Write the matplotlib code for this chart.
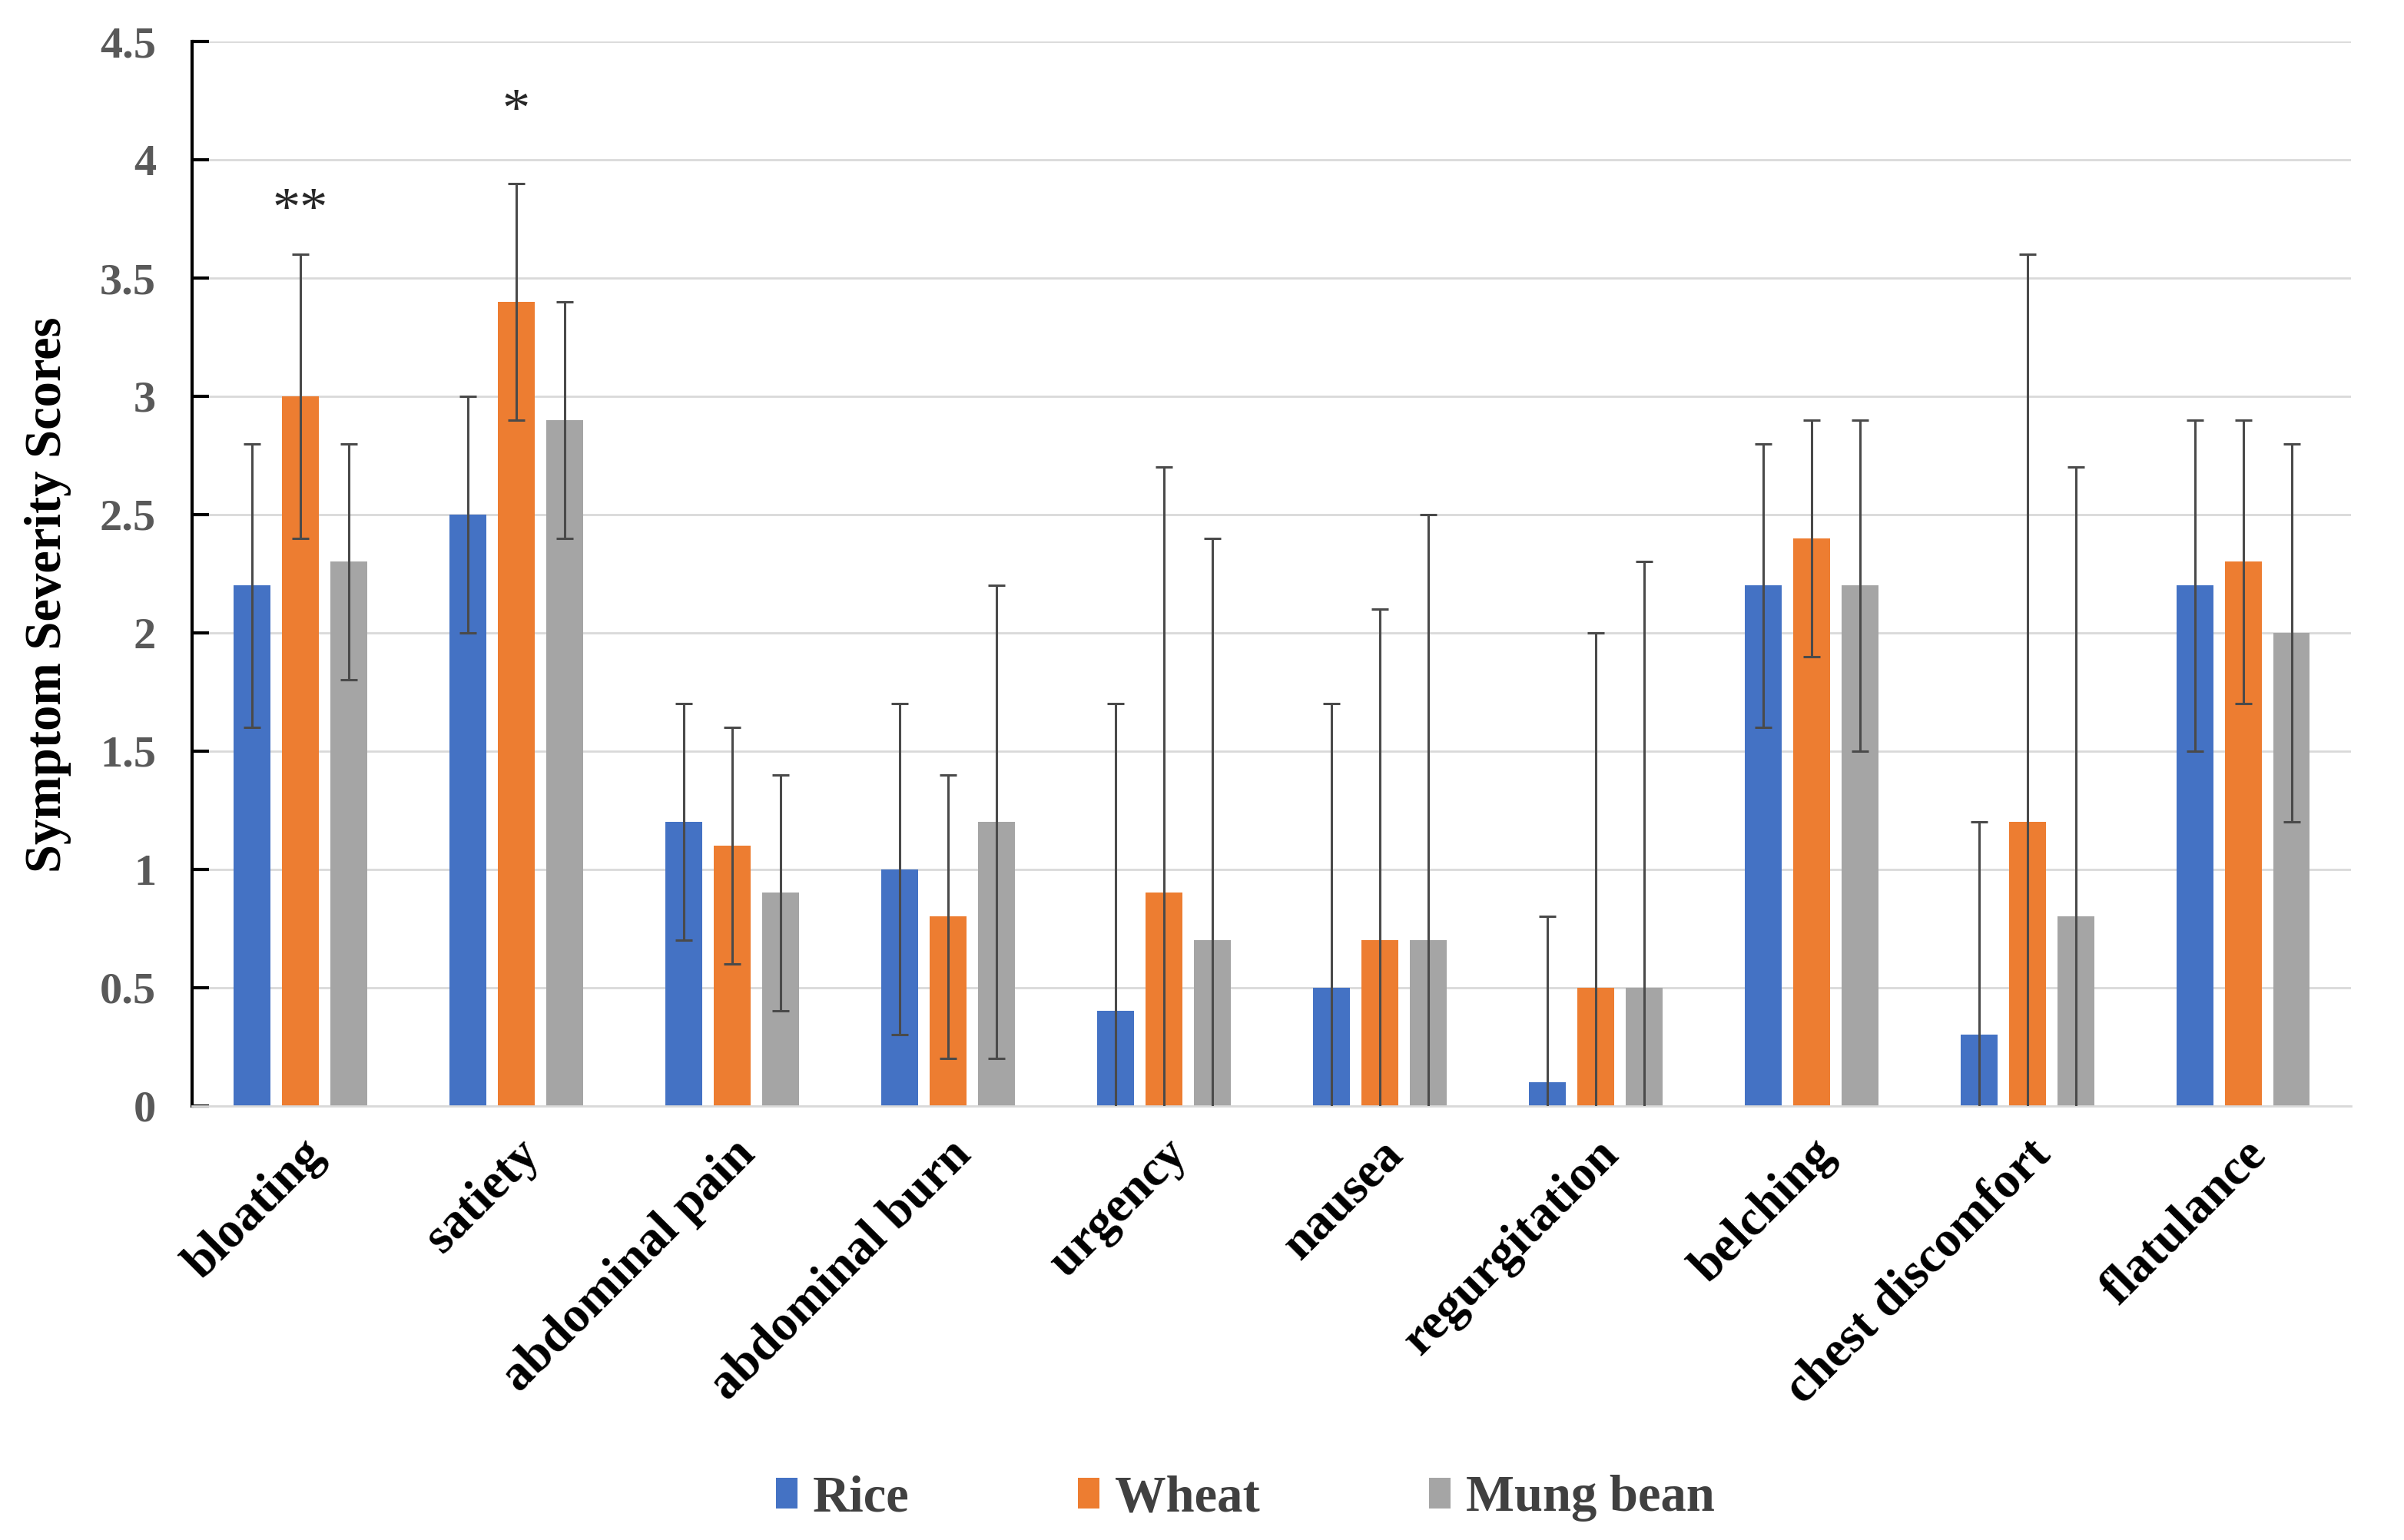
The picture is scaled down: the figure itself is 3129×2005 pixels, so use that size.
import matplotlib
matplotlib.use("Agg")
import matplotlib.pyplot as plt
import numpy as np

categories = ["bloating", "satiety", "abdominal pain", "abdominal burn", "urgency",
              "nausea", "regurgitation", "belching", "chest discomfort", "flatulance"]
series_names = ["Rice", "Wheat", "Mung bean"]
rice = [2.2, 2.5, 1.2, 1.0, 0.4, 0.5, 0.1, 2.2, 0.3, 2.2]
wheat = [3.0, 3.4, 1.1, 0.8, 0.9, 0.7, 0.5, 2.4, 1.2, 2.3]
mung = [2.3, 2.9, 0.9, 1.2, 0.7, 0.7, 0.5, 2.2, 0.8, 2.0]
rice_err = [0.6, 0.5, 0.5, 0.7, 1.3, 1.2, 0.7, 0.6, 0.9, 0.7]
wheat_err = [0.6, 0.5, 0.5, 0.6, 1.8, 1.4, 1.5, 0.5, 2.4, 0.6]
mung_err = [0.5, 0.5, 0.5, 1.0, 1.7, 1.8, 1.8, 0.7, 1.9, 0.8]
sig_labels = [("**", 0, 1, 3.78), ("*", 1, 1, 4.2)]
yticks = [0, 0.5, 1, 1.5, 2, 2.5, 3, 3.5, 4, 4.5]
ytick_labels = ["0", "0.5", "1", "1.5", "2", "2.5", "3", "3.5", "4", "4.5"]
colors = ["#4472C4", "#ED7D31", "#A5A5A5"]

plt.rcParams['font.family'] = ['Liberation Serif', 'DejaVu Serif']

fig = plt.figure(figsize=(31.29, 20.05), dpi=100)
ax = fig.add_axes([0.08, 0.282, 0.898, 0.691])

x = np.arange(len(categories))
width = 0.17
step = 0.224
vals = [rice, wheat, mung]
errs = [rice_err, wheat_err, mung_err]
for i, (v, e, c, n) in enumerate(zip(vals, errs, colors, series_names)):
    ax.bar(x + (i - 1) * step, v, width, color=c, label=n, zorder=2)
    ax.errorbar(x + (i - 1) * step, v, yerr=e, fmt='none', ecolor='#4a4a4a',
                elinewidth=2.2, capsize=8, capthick=2.2, zorder=3)

for txt, ci, si, yv in sig_labels:
    ax.text(ci + (si - 1) * step, yv, txt, ha='center', va='center',
            fontsize=52, color='#262626')

ax.set_xlim(-0.5, len(categories) - 0.5)
ax.set_ylim(0, 4.5)
ax.set_yticks(yticks)
ax.set_yticklabels(ytick_labels, fontsize=42, fontweight='bold', color='#595959')
ax.yaxis.grid(True, color='#D9D9D9', linewidth=2, zorder=0)
ax.set_axisbelow(True)
ax.tick_params(axis='y', direction='in', length=16, width=3, pad=34)
ax.tick_params(axis='x', length=0, pad=24)
ax.set_xticks(x)
ax.set_xticklabels(categories, rotation=45, ha='right', rotation_mode='anchor',
                   fontsize=47, fontweight='bold')
for s in ['top', 'right']:
    ax.spines[s].set_visible(False)
ax.spines['left'].set_linewidth(3)
ax.spines['left'].set_color('black')
ax.spines['bottom'].set_color('#D9D9D9')
ax.spines['bottom'].set_linewidth(2)

ax.set_ylabel("Symptom Severity Scores", fontsize=48, fontweight='bold')
ax.yaxis.set_label_coords(-0.056, 0.48)

leg = fig.legend(loc='center', bbox_to_anchor=(0.518, 0.027), ncol=3, frameon=False,
                 prop={'size': 48, 'weight': 'bold'}, handlelength=0.42, handleheight=0.55,
                 handletextpad=0.3, columnspacing=3.3)
for t in leg.get_texts():
    t.set_color('#404040')

fig.savefig("out.png", dpi=100)
